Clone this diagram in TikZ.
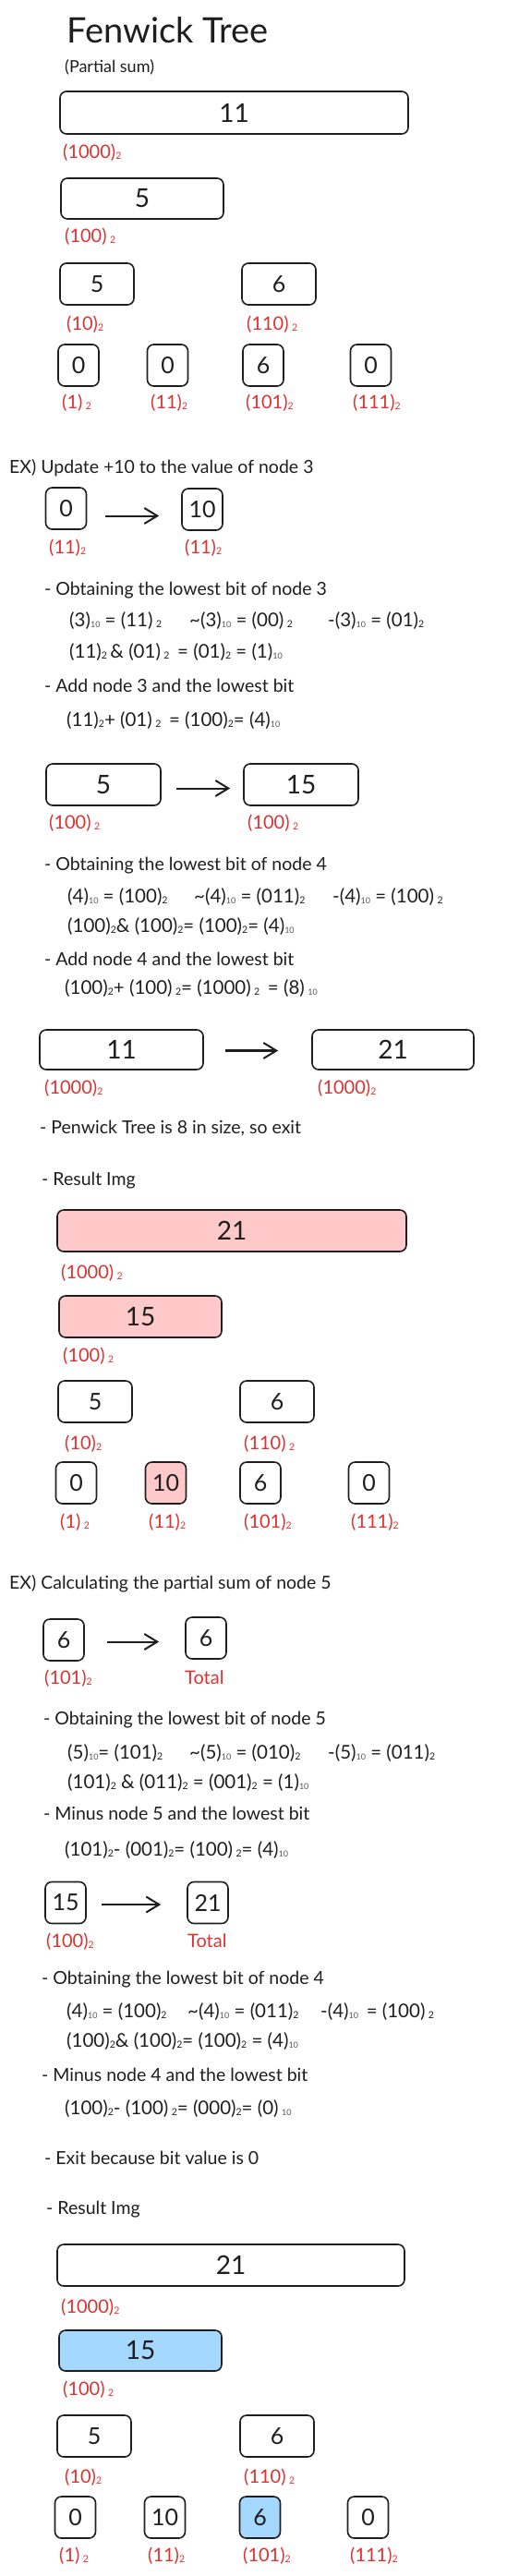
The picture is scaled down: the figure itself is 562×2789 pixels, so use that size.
\documentclass[tikz,border=0pt]{standalone}
\usepackage{fontspec}
\setmainfont{Lato}
\usetikzlibrary{arrows.meta}
\definecolor{ink}{HTML}{1E1E1E}
\definecolor{lbl}{HTML}{E03131}
\definecolor{pinkf}{HTML}{FFC9C9}
\definecolor{bluef}{HTML}{A5D8FF}
\newcommand\bsub[1]{\raisebox{-1.5pt}{\fontsize{10.5pt}{10.5pt}\selectfont #1}}
\newcommand\dsub[1]{\raisebox{-1pt}{\fontsize{9pt}{9pt}\selectfont\color{ink!75}#1}}
\newcommand\seg[2]{\makebox[#1][l]{#2}}
\tikzset{
 box/.style={draw=ink, line width=1.6pt, rounded corners=7pt, inner sep=0pt, text=ink, font=\fontsize{25pt}{25pt}\selectfont},
 bigbox/.style={box, font=\fontsize{28pt}{28pt}\selectfont},
 leaf/.style={box, minimum width=44pt, minimum height=45pt},
 midbox/.style={box, minimum width=80pt, minimum height=45pt},
 lab/.style={anchor=base west, inner sep=0pt, text=lbl, font=\fontsize{20pt}{20pt}\selectfont},
 txt/.style={anchor=base west, inner sep=0pt, text=ink, font=\fontsize{19.5pt}{19.5pt}\selectfont},
 eq/.style={txt, font=\fontsize{20.5pt}{20.5pt}\selectfont},
 arr/.style={draw=ink, line width=2pt, -{Straight Barb[length=14pt, width=17pt, line width=2pt]}},
}
\begin{document}
\begin{tikzpicture}[x=1pt,y=-1pt]
\useasboundingbox (0,0) rectangle (562,2789);
% ---------- Fenwick tree ----------
\node[txt, font=\fontsize{38pt}{38pt}\selectfont] (title) at (72,46) {Fenwick Tree};
\node[txt, font=\fontsize{18pt}{18pt}\selectfont] (subt) at (70,78) {(Partial sum)};
\node[bigbox, minimum width=377pt, minimum height=46pt] (a8) at (253.5,122) {11};
\node[lab] (a8l) at (68,171) {(1000)\bsub{2}};
\node[bigbox, minimum width=176pt, minimum height=44pt] (a4) at (154,215) {5};
\node[lab] (a4l) at (70,262) {(100)\,\bsub{2}};
\node[midbox] (a2) at (105,307.5) {5};
\node[midbox] (a6) at (302,307.5) {6};
\node[lab] (a2l) at (72,357) {(10)\bsub{2}};
\node[lab] (a6l) at (267,357) {(110)\,\bsub{2}};
\node[leaf] (a1) at (85,395.5) {0};
\node[leaf] (a3) at (181.5,395.5) {0};
\node[leaf] (a5) at (285,395.5) {6};
\node[leaf] (a7) at (401.5,395.5) {0};
\node[lab] (a1l) at (67,442) {(1)\,\bsub{2}};
\node[lab] (a3l) at (163,442) {(11)\bsub{2}};
\node[lab] (a5l) at (266,442) {(101)\bsub{2}};
\node[lab] (a7l) at (382,442) {(111)\bsub{2}};
% ---------- Update example ----------
\node[txt] (ex1) at (10,512) {EX) Update +10 to the value of node 3};
\node[leaf] (u1) at (71.5,550.5) {0};
\node[leaf] (u2) at (219,551.5) {10};
\draw[arr, shorten <=20pt, shorten >=24pt] ([yshift=-8pt]u1.east) -- ([yshift=-7pt]u2.west);
\node[lab] (u1l) at (53,599) {(11)\bsub{2}};
\node[lab] (u2l) at (200,599) {(11)\bsub{2}};
\node[txt] (s1) at (48,644) {- Obtaining the lowest bit of node 3};
\node[eq] (s1a) at (75,678) {\seg{130pt}{(3)\dsub{10} = (11)\,\bsub{2}}\seg{150pt}{\textasciitilde(3)\dsub{10} = (00)\,\bsub{2}}-(3)\dsub{10} = (01)\bsub{2}};
\node[eq] (s1b) at (75,712) {(11)\bsub{2}\,\& (01)\,\bsub{2}\, = (01)\bsub{2} = (1)\dsub{10}};
\node[txt] (s2) at (48,749) {- Add node 3 and the lowest bit};
\node[eq] (s2a) at (72,786) {(11)\bsub{2}+ (01)\,\bsub{2}\, = (100)\bsub{2}= (4)\dsub{10}};
\node[bigbox, minimum width=124pt, minimum height=45pt] (u3) at (112,849.5) {5};
\node[bigbox, minimum width=124pt, minimum height=45pt] (u4) at (326,849.5) {15};
\draw[arr, shorten <=16pt, shorten >=14pt] ([yshift=-4pt]u3.east) -- ([yshift=-4pt]u4.west);
\node[lab] (u3l) at (53,897) {(100)\,\bsub{2}};
\node[lab] (u4l) at (268,897) {(100)\,\bsub{2}};
\node[txt] (s3) at (48,942) {- Obtaining the lowest bit of node 4};
\node[eq] (s3a) at (73,977) {\seg{137pt}{(4)\dsub{10} = (100)\bsub{2}}\seg{150pt}{\textasciitilde(4)\dsub{10} = (011)\bsub{2}}-(4)\dsub{10} = (100)\,\bsub{2}};
\node[eq] (s3b) at (73,1009) {(100)\bsub{2}\& (100)\bsub{2}= (100)\bsub{2}= (4)\dsub{10}};
\node[txt] (s4) at (48,1045) {- Add node 4 and the lowest bit};
\node[eq] (s4a) at (70,1076) {(100)\bsub{2}+ (100)\,\bsub{2}= (1000)\,\bsub{2}\, = (8)\,\dsub{10}};
\node[bigbox, minimum width=177pt, minimum height=43pt] (u5) at (131.5,1136.5) {11};
\node[bigbox, minimum width=175pt, minimum height=43pt] (u6) at (425.5,1136.5) {21};
\draw[arr, line width=2.6pt, shorten <=23pt, shorten >=36pt] ([yshift=-1pt]u5.east) -- ([yshift=-1pt]u6.west);
\node[lab] (u5l) at (48,1184) {(1000)\bsub{2}};
\node[lab] (u6l) at (344,1184) {(1000)\bsub{2}};
\node[txt] (s5) at (43,1227) {- Penwick Tree is 8 in size, so exit};
\node[txt] (s6) at (45,1283) {- Result Img};
% ---------- Result 1 ----------
\node[bigbox, fill=pinkf, minimum width=378pt, minimum height=45pt] (b8) at (251,1332.5) {21};
\node[lab] (b8l) at (66,1384) {(1000)\,\bsub{2}};
\node[bigbox, fill=pinkf, minimum width=176pt, minimum height=45pt] (b4) at (152,1425.5) {15};
\node[lab] (b4l) at (68,1474) {(100)\,\bsub{2}};
\node[midbox] (b2) at (103,1517.5) {5};
\node[midbox] (b6) at (300,1517.5) {6};
\node[lab] (b2l) at (70,1569) {(10)\bsub{2}};
\node[lab] (b6l) at (264,1569) {(110)\,\bsub{2}};
\node[leaf] (b1) at (82.5,1605.5) {0};
\node[leaf, fill=pinkf] (b3) at (179.5,1605.5) {10};
\node[leaf] (b5) at (282,1605.5) {6};
\node[leaf] (b7) at (399.5,1605.5) {0};
\node[lab] (b1l) at (65,1654) {(1)\,\bsub{2}};
\node[lab] (b3l) at (161,1654) {(11)\bsub{2}};
\node[lab] (b5l) at (264,1654) {(101)\bsub{2}};
\node[lab] (b7l) at (380,1654) {(111)\bsub{2}};
% ---------- Partial sum example ----------
\node[txt] (ex2) at (10,1720) {EX) Calculating the partial sum of node 5};
\node[leaf] (c1) at (69,1775.5) {6};
\node[leaf] (c2) at (223,1773.5) {6};
\draw[arr, shorten <=24pt, shorten >=28pt] ([yshift=-2pt]c1.east) -- ([yshift=-4pt]c2.west);
\node[lab] (c1l) at (48,1823) {(101)\bsub{2}};
\node[lab] (c2l) at (200,1823) {Total};
\node[txt] (t1) at (47,1867) {- Obtaining the lowest bit of node 5};
\node[eq] (t1a) at (73,1904) {\seg{132pt}{(5)\dsub{10}= (101)\bsub{2}}\seg{150pt}{\textasciitilde(5)\dsub{10} = (010)\bsub{2}}-(5)\dsub{10} = (011)\bsub{2}};
\node[eq] (t1b) at (73,1936) {(101)\bsub{2} \& (011)\bsub{2} = (001)\bsub{2} = (1)\dsub{10}};
\node[txt] (t2) at (47,1970) {- Minus node 5 and the lowest bit};
\node[eq] (t2a) at (70,2009) {(101)\bsub{2}- (001)\bsub{2}= (100)\,\bsub{2}= (4)\dsub{10}};
\node[leaf] (c3) at (71,2060) {15};
\node[leaf] (c4) at (225,2060) {21};
\draw[arr, shorten <=16pt, shorten >=28pt] ([yshift=-2pt]c3.east) -- ([yshift=-2pt]c4.west);
\node[lab] (c3l) at (50,2108) {(100)\bsub{2}};
\node[lab] (c4l) at (203,2108) {Total};
\node[txt] (t3) at (45,2148) {- Obtaining the lowest bit of node 4};
\node[eq] (t3a) at (72,2184) {\seg{131pt}{(4)\dsub{10} = (100)\bsub{2}}\seg{144pt}{\textasciitilde(4)\dsub{10} = (011)\bsub{2}}-(4)\dsub{10}\, = (100)\,\bsub{2}};
\node[eq] (t3b) at (72,2216) {(100)\bsub{2}\& (100)\bsub{2}= (100)\bsub{2} = (4)\dsub{10}};
\node[txt] (t4) at (45,2253) {- Minus node 4 and the lowest bit};
\node[eq] (t4a) at (70,2289) {(100)\bsub{2}- (100)\,\bsub{2}= (000)\bsub{2}= (0)\,\dsub{10}};
\node[txt] (t5) at (48,2343) {- Exit because bit value is 0};
\node[txt] (t6) at (50,2397) {- Result Img};
% ---------- Result 2 ----------
\node[bigbox, minimum width=376pt, minimum height=45pt] (d8) at (250,2452.5) {21};
\node[lab] (d8l) at (66,2504) {(1000)\bsub{2}};
\node[bigbox, fill=bluef, minimum width=176pt, minimum height=44pt] (d4) at (152,2545) {15};
\node[lab] (d4l) at (68,2593) {(100)\,\bsub{2}};
\node[midbox] (d2) at (102,2637.5) {5};
\node[midbox] (d6) at (300,2637.5) {6};
\node[lab] (d2l) at (70,2688) {(10)\bsub{2}};
\node[lab] (d6l) at (264,2688) {(110)\,\bsub{2}};
\node[leaf] (d1) at (81.5,2725.5) {0};
\node[leaf] (d3) at (178.5,2725.5) {10};
\node[leaf, fill=bluef] (d5) at (281.5,2725.5) {6};
\node[leaf] (d7) at (398.5,2725.5) {0};
\node[lab] (d1l) at (64,2773) {(1)\,\bsub{2}};
\node[lab] (d3l) at (160,2773) {(11)\bsub{2}};
\node[lab] (d5l) at (263,2773) {(101)\bsub{2}};
\node[lab] (d7l) at (379,2773) {(111)\bsub{2}};
\end{tikzpicture}
\end{document}
